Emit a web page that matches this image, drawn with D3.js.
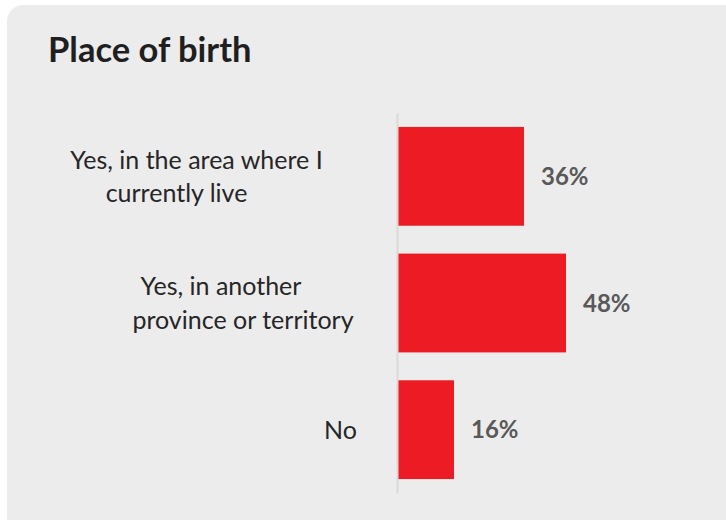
<!DOCTYPE html>
<html>
<head>
<meta charset="utf-8">
<script src="https://cdn.jsdelivr.net/npm/d3@7"></script>
<style>
  html, body { margin: 0; padding: 0; background: #ffffff; }
  svg { display: block; }
</style>
</head>
<body>
<svg id="chart" width="726" height="520"></svg>
<script>
// ---- data ----
const title = "Place of birth";
const categories = ["Yes, in the area where I currently live", "Yes, in another province or territory", "No"];
const categoryLines = [["Yes, in the area where I", "currently live"], ["Yes, in another", "province or territory"], ["No"]];
const values = [36, 48, 16];
const valueLabels = ["36%", "48%", "16%"];

// ---- layout (styling, not data) ----
const lineCenters = [[196.5, 176.5], [221, 243], [340.5]];
const W = 726, H = 520;
const svg = d3.select("#chart");
const font = "Lato, 'Open Sans', sans-serif";

svg.append("rect")
  .attr("x", 7).attr("y", 5)
  .attr("width", 735).attr("height", 530)
  .attr("rx", 16).attr("ry", 16)
  .attr("fill", "#ececec");

svg.append("text")
  .attr("x", 48).attr("y", 62)
  .attr("font-family", font)
  .attr("font-weight", 700)
  .attr("font-size", 34.5)
  .attr("fill", "#1f1f1f")
  .text(title);

const x = d3.scaleLinear().domain([0, 100]).range([398, 748]);
const y = d3.scaleBand().domain(categories).range([113, 493])
  .paddingInner(0.22).paddingOuter(0.11);

// bars
svg.append("g").selectAll("rect")
  .data(categories)
  .join("rect")
  .attr("x", x(0))
  .attr("y", d => y(d))
  .attr("width", (d, i) => x(values[i]) - x(0))
  .attr("height", y.bandwidth())
  .attr("fill", "#ed1c24");

// axis line
const yAxis = d3.axisLeft(y).tickSize(0).tickFormat("");
const ax = svg.append("g").attr("transform", `translate(${x(0) - 1},0)`).call(yAxis);
ax.select(".domain").attr("stroke", "#d9d9d9").attr("stroke-width", 2);

// category labels
const lab = svg.append("g").selectAll("text")
  .data(categories)
  .join("text")
  .attr("font-family", font)
  .attr("font-size", 25)
  .attr("fill", "#262626")
  .attr("text-anchor", "middle");
lab.each(function(d, i) {
  const lines = categoryLines[i];
  const cy = y(d) + y.bandwidth() / 2;
  const n = lines.length;
  lines.forEach((ln, j) => {
    d3.select(this).append("tspan")
      .attr("x", lineCenters[i][j])
      .attr("y", cy + (j - (n - 1) / 2) * 33.5)
      .attr("dy", "0.36em")
      .text(ln);
  });
});

// value labels
svg.append("g").selectAll("text")
  .data(categories)
  .join("text")
  .attr("x", (d, i) => x(values[i]) + 17)
  .attr("y", d => y(d) + y.bandwidth() / 2)
  .attr("dy", "0.36em")
  .attr("font-family", font)
  .attr("font-weight", 700)
  .attr("font-size", 24)
  .attr("fill", "#595959")
  .text((d, i) => valueLabels[i]);
</script>
</body>
</html>
